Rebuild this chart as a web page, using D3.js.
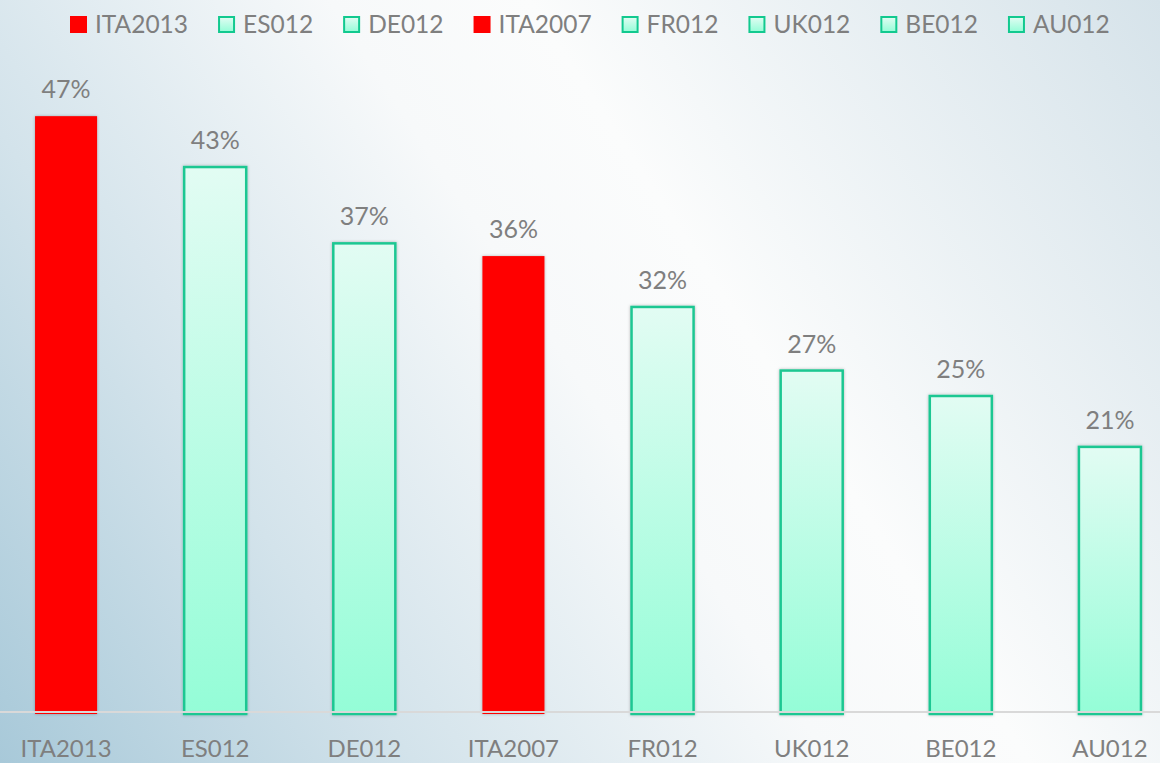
<!DOCTYPE html>
<html>
<head>
<meta charset="utf-8">
<script src="https://cdn.jsdelivr.net/npm/d3@7"></script>
<style>
  html, body { margin: 0; padding: 0; }
  body { width: 1160px; height: 763px; overflow: hidden; }
  #chart text { font-family: Lato, "Liberation Sans", sans-serif; fill: #7f7f7f; }
</style>
</head>
<body>
<div id="chart"></div>
<script>
// Share by category (%)
const categories = ['ITA2013', 'ES012', 'DE012', 'ITA2007', 'FR012', 'UK012', 'BE012', 'AU012'];
const values = [47, 43, 37, 36, 32, 27, 25, 21];
const highlighted = ['ITA2013', 'ITA2007'];

const width = 1160;
const height = 763;

const svg = d3.select('#chart').append('svg')
  .attr('width', width)
  .attr('height', height);

const defs = svg.append('defs');

// background: dark blue bottom-left, white in the middle, light grey-blue top-right
const bg = defs.append('linearGradient')
  .attr('id', 'bg')
  .attr('gradientUnits', 'userSpaceOnUse')
  .attr('x1', 0).attr('y1', height)
  .attr('x2', width).attr('y2', 0);
bg.append('stop').attr('offset', '0').attr('stop-color', '#a8c9d9');
bg.append('stop').attr('offset', '0.25').attr('stop-color', '#d3e3eb');
bg.append('stop').attr('offset', '0.5').attr('stop-color', '#f7f9fa');
bg.append('stop').attr('offset', '0.62').attr('stop-color', '#fbfcfc');
bg.append('stop').attr('offset', '1').attr('stop-color', '#d6e3ea');

// mint fill for the non-highlighted bars
const mint = defs.append('linearGradient')
  .attr('id', 'mint')
  .attr('x1', 0).attr('y1', 0)
  .attr('x2', 0).attr('y2', 1);
mint.append('stop').attr('offset', '0').attr('stop-color', '#e2fcf3');
mint.append('stop').attr('offset', '1').attr('stop-color', '#94fdd7');

const shadow = defs.append('filter')
  .attr('id', 'shadow')
  .attr('x', '-30%').attr('y', '-10%')
  .attr('width', '160%').attr('height', '120%');
shadow.append('feDropShadow')
  .attr('dx', 0).attr('dy', 0)
  .attr('stdDeviation', 1.6)
  .attr('flood-color', '#000')
  .attr('flood-opacity', 0.28);

svg.append('rect')
  .attr('width', width)
  .attr('height', height)
  .attr('fill', 'url(#bg)');

const x = d3.scaleBand()
  .domain(categories)
  .range([-8.5, 1184.5])
  .paddingInner(0.584)
  .paddingOuter(0.292);

const y = d3.scaleLinear()
  .domain([0, 50])
  .range([714, 78]);

const isRed = c => highlighted.includes(c);

// bars
svg.append('g')
  .selectAll('rect')
  .data(categories)
  .join('rect')
  .attr('x', d => x(d))
  .attr('y', (d, i) => y(values[i]))
  .attr('width', x.bandwidth())
  .attr('height', (d, i) => y(0) - y(values[i]))
  .attr('fill', d => isRed(d) ? '#ff0000' : 'url(#mint)')
  .attr('stroke', d => isRed(d) ? 'none' : '#1dc792')
  .attr('stroke-width', 2.5)
  .attr('filter', 'url(#shadow)');

// baseline
svg.append('line')
  .attr('x1', 0).attr('x2', width)
  .attr('y1', 712).attr('y2', 712)
  .attr('stroke', '#d9d9d9')
  .attr('stroke-width', 2);

// value labels
svg.append('g')
  .selectAll('text')
  .data(categories)
  .join('text')
  .attr('x', d => x(d) + x.bandwidth() / 2)
  .attr('y', (d, i) => y(values[i]) - 18)
  .attr('text-anchor', 'middle')
  .style('font-size', '25px')
  .text((d, i) => values[i] + '%');

// category axis
const axis = svg.append('g')
  .attr('transform', 'translate(0,733)')
  .call(d3.axisBottom(x).tickSize(0).tickPadding(0));
axis.select('.domain').remove();
axis.selectAll('text')
  .attr('dy', '0')
  .attr('y', 24)
  .style('font-size', '24px');

// legend
const legend = svg.append('g').attr('transform', 'translate(70,0)');
let lx = 0;
categories.forEach(c => {
  const item = legend.append('g').attr('transform', `translate(${lx},0)`);
  item.append('rect')
    .attr('x', isRed(c) ? 0 : 1)
    .attr('y', isRed(c) ? 16 : 17)
    .attr('width', isRed(c) ? 17 : 15)
    .attr('height', isRed(c) ? 17 : 15)
    .attr('fill', isRed(c) ? '#ff0000' : 'url(#mint)')
    .attr('stroke', isRed(c) ? 'none' : '#12c98f')
    .attr('stroke-width', 2);
  const t = item.append('text')
    .attr('x', 25)
    .attr('y', 33)
    .style('font-size', '24.5px')
    .text(c);
  lx += 25 + t.node().getComputedTextLength() + 30;
});
</script>
</body>
</html>
